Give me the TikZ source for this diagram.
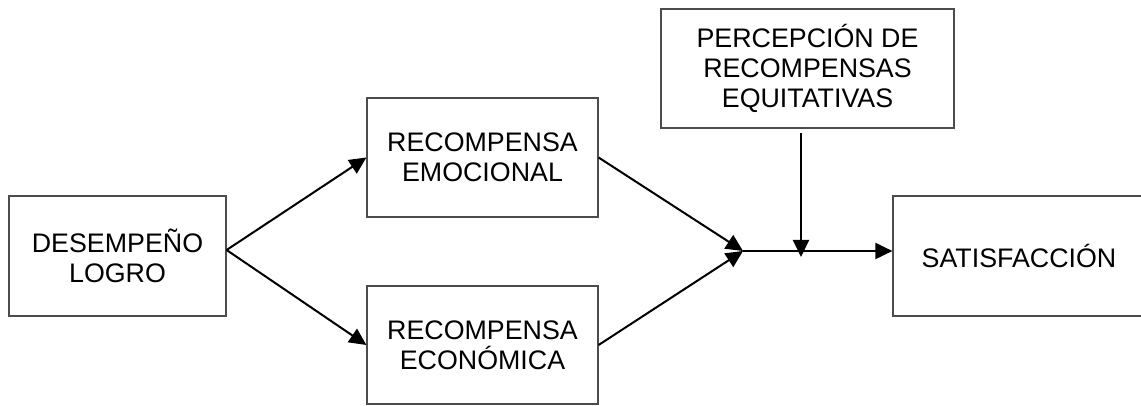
\documentclass[tikz,border=0pt]{standalone}
\usepackage{fontspec}
\setmainfont{Liberation Sans}
\usetikzlibrary{arrows.meta}

\begin{document}
\begin{tikzpicture}[x=0.5pt, y=-0.5pt,
	caja/.style={draw=black!70, line width=0.6pt, align=center, inner sep=0pt,
		font=\fontsize{13.4}{15.2}\selectfont},
	flecha/.style={line width=1pt, -{Triangle[length=8.5pt,width=8pt]}}]

	\useasboundingbox (0,0) rectangle (1141,406) ;

	\draw (117.5,256) node[caja, minimum width=108.5pt, minimum height=60pt] (logro) {DESEMPEÑO\\LOGRO} ;
	\draw (482.5,157.5) node[caja, minimum width=115.5pt, minimum height=59.5pt] (emocional) {RECOMPENSA\\EMOCIONAL} ;
	\draw (482.5,345) node[caja, minimum width=115.5pt, minimum height=59pt] (economica) {RECOMPENSA\\ECONÓMICA} ;
	\draw (807.5,68.5) node[caja, minimum width=146.5pt, minimum height=59.5pt] (percepcion) {PERCEPCIÓN DE\\RECOMPENSAS\\EQUITATIVAS} ;
	\draw (1019,256) node[caja, minimum width=126pt, minimum height=60pt] (satisfaccion) {SATISFACCIÓN} ;

	\coordinate (union) at (743,251) ;
	\coordinate (arriba) at (801,133) ;
	\coordinate (cruce) at (801,257) ;

	\draw [flecha] ([yshift=3pt]logro.east) -- (emocional.west) ;
	\draw [flecha] ([yshift=3pt]logro.east) -- (economica.west) ;
	\draw [flecha] (emocional.east) -- (union) ;
	\draw [flecha] (economica.east) -- (union) ;
	\draw [flecha] (union) -- (satisfaccion.west |- union) ;
	\draw [flecha] (arriba) -- (cruce) ;
\end{tikzpicture}
\end{document}
